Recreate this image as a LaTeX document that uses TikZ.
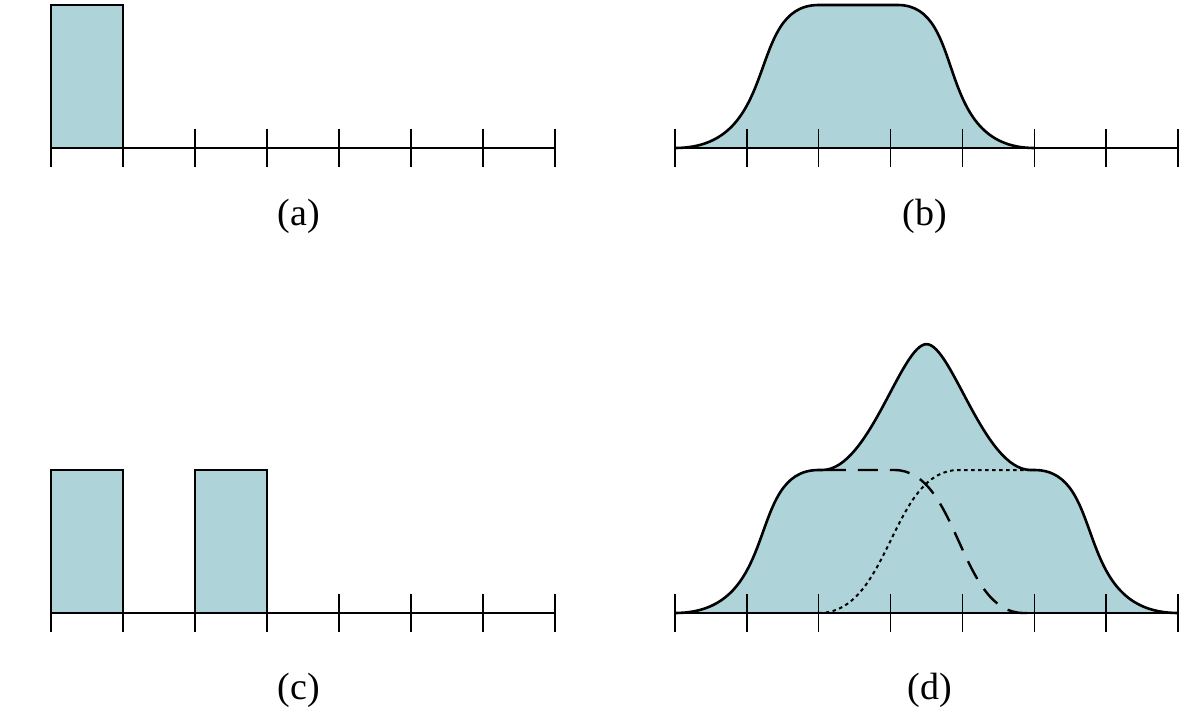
\documentclass[tikz,border=0pt]{standalone}
\usepackage{fontspec}
\setmainfont{Liberation Serif}
\definecolor{fillc}{RGB}{174,211,216}
\begin{document}
\begin{tikzpicture}[x=1pt,y=-1pt,
  curve/.style={black,line width=2.6pt,line join=round},
  axisline/.style={black,line width=1.5pt},
  tickline/.style={black,line width=1.5pt},
  bar/.style={fill=fillc,draw=black,line width=2pt},
  dashcurve/.style={black,line width=2.4pt,dash pattern=on 20pt off 12pt},
  dotcurve/.style={black,line width=2pt,dash pattern=on 3.5pt off 3.5pt},
  caption/.style={font=\fontsize{38}{40}\selectfont,inner sep=0pt}]
\useasboundingbox (0,0) rectangle (1200,728);

% ---------- (a) ----------
\begin{scope}[shift={(51,148)},x=72pt,y=143pt]
  \path[bar] (0,0) rectangle (1,1);
  \draw[axisline] (0,0) -- (7,0);
  \foreach \k in {0,...,7} \draw[tickline] (\k,-0.133) -- (\k,0.133);
\end{scope}
\node[caption] (la) at (299,216) {(a)};

% ---------- (c) ----------
\begin{scope}[shift={(51,613)},x=72pt,y=143pt]
  \path[bar] (0,0) rectangle (1,1);
  \path[bar] (2,0) rectangle (3,1);
  \draw[axisline] (0,0) -- (7,0);
  \foreach \k in {0,...,7} \draw[tickline] (\k,-0.133) -- (\k,0.133);
\end{scope}
\node[caption] (lc) at (299,690) {(c)};

% ---------- (b) ----------
\begin{scope}[shift={(675,148)},x=71.86pt,y=143pt]
  \fill[fillc] (0,0) .. controls (1.5,0) and (0.97,1) .. (2,1) -- (3.1,1)
     .. controls (4.08,1) and (3.575,0) .. (5,0) -- cycle;
  \draw[axisline] (0,0) -- (7,0);
  \foreach \k in {0,...,7} \draw[tickline] (\k,-0.133) -- (\k,0.133);
  \draw[curve] (0,0) .. controls (1.5,0) and (0.97,1) .. (2,1) -- (3.1,1)
     .. controls (4.08,1) and (3.575,0) .. (5,0);
\end{scope}
\node[caption] (lb) at (925,216) {(b)};

% ---------- (d) ----------
\begin{scope}[shift={(675,613)},x=71.86pt,y=143pt]
  \fill[fillc] (0,0) .. controls (1.5,0) and (0.97,1) .. (2,1) -- (2.05,1)
     .. controls (2.7,1) and (3.15,1.88) .. (3.5,1.88)
     .. controls (3.85,1.88) and (4.3,1) .. (4.95,1) -- (5,1)
     .. controls (6.03,1) and (5.5,0) .. (7,0) -- cycle;
  \draw[axisline] (0,0) -- (7,0);
  \foreach \k in {0,...,7} \draw[tickline] (\k,-0.133) -- (\k,0.133);
  \draw[dashcurve] (2.1,1) -- (3.05,1) .. controls (3.95,1) and (3.95,0) .. (4.85,0) -- (5,0);
  \draw[dotcurve] (2,0) .. controls (3.0,0) and (3.0,1) .. (3.95,1) -- (5,1);
  \draw[curve] (0,0) .. controls (1.5,0) and (0.97,1) .. (2,1) -- (2.05,1)
     .. controls (2.7,1) and (3.15,1.88) .. (3.5,1.88)
     .. controls (3.85,1.88) and (4.3,1) .. (4.95,1) -- (5,1)
     .. controls (6.03,1) and (5.5,0) .. (7,0);
\end{scope}
\node[caption] (ld) at (930,690) {(d)};
\end{tikzpicture}
\end{document}
